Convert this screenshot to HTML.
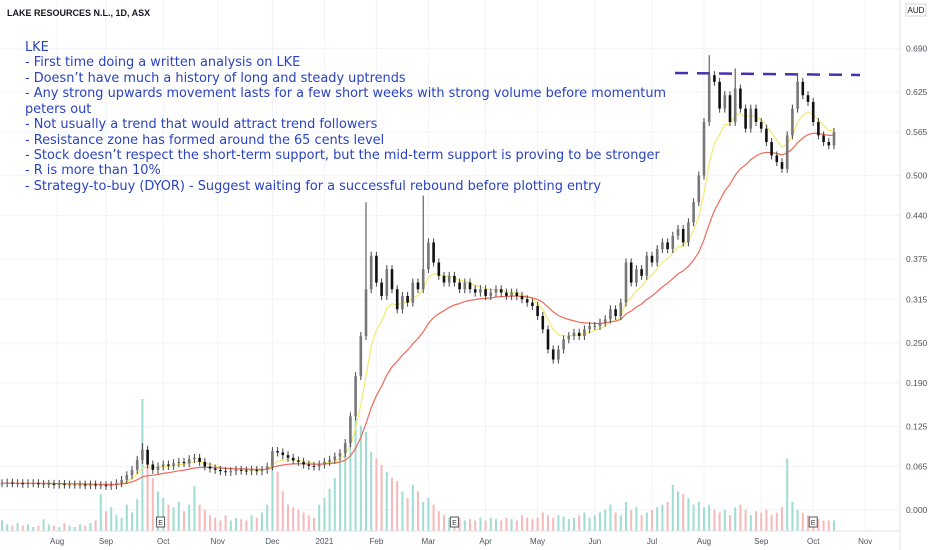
<!DOCTYPE html>
<html><head><meta charset="utf-8"><style>
body{margin:0;background:#fff;width:932px;height:550px;overflow:hidden;font-family:"Liberation Sans",sans-serif}
svg{display:block}
</style></head><body>
<svg id="chart" width="932" height="550" xmlns="http://www.w3.org/2000/svg">
<rect x="0" y="0" width="932" height="550" fill="#fff"/>
<g id="grid"></g>
<g id="vol"></g>
<g id="ma"></g>
<g id="candles"></g>
<line x1="675" y1="73" x2="860" y2="75" stroke="#4a2fb0" stroke-width="2.5" stroke-dasharray="13,9"/>
<text x="7" y="16" font-size="9" font-weight="bold" fill="#131722">LAKE RESOURCES N.L., 1D, ASX</text>
<g font-family="'DejaVu Sans',sans-serif" font-size="12.9" fill="#2a43c0">
<text x="25" y="51">LKE</text>
<text x="25" y="66">- First time doing a written analysis on LKE</text>
<text x="25" y="82">- Doesn’t have much a history of long and steady uptrends</text>
<text x="25" y="97">- Any strong upwards movement lasts for a few short weeks with strong volume before momentum</text>
<text x="25" y="113">peters out</text>
<text x="25" y="128">- Not usually a trend that would attract trend followers</text>
<text x="25" y="144">- Resistance zone has formed around the 65 cents level</text>
<text x="25" y="159">- Stock doesn’t respect the short-term support, but the mid-term support is proving to be stronger</text>
<text x="25" y="174">- R is more than 10%</text>
<text x="25" y="190">- Strategy-to-buy (DYOR) - Suggest waiting for a successful rebound before plotting entry</text>
</g>
<line x1="900" y1="0" x2="900" y2="550" stroke="#e0e3eb"/>
<line x1="0" y1="531" x2="900" y2="531" stroke="#e0e3eb"/>
<g id="yaxis"></g>
<g id="xaxis"></g>
<rect x="906" y="4" width="20" height="12" fill="#fff" stroke="#d1d4dc"/>
<text x="916" y="13" font-size="8" text-anchor="middle" fill="#131722">AUD</text>
<g id="earn"></g>
</svg>
<script>
const closes=[0.040,0.041,0.040,0.040,0.039,0.040,0.040,0.039,0.039,0.039,0.038,0.039,0.038,0.038,0.038,0.038,0.037,0.038,0.037,0.037,0.036,0.037,
0.040,0.045,0.052,0.060,0.075,0.090,0.068,0.060,0.065,
0.068,0.066,0.070,0.072,0.070,0.076,0.078,0.072,0.065,0.062,
0.060,0.058,0.057,0.058,0.060,0.059,0.058,0.060,0.058,0.060,0.065,
0.088,0.086,0.082,0.078,0.074,0.072,0.068,0.066,0.065,0.068,
0.072,0.075,0.080,0.085,0.100,0.140,0.200,0.260,0.330,0.380,
0.340,0.320,0.360,0.330,0.300,0.320,0.310,0.340,0.330,0.360,
0.400,0.370,0.350,0.340,0.350,0.340,0.330,0.340,0.330,0.325,0.330,
0.320,0.325,0.330,0.325,0.320,0.325,0.320,0.315,0.310,0.305,
0.290,0.270,0.240,0.225,0.240,0.255,0.260,0.265,0.260,0.270,0.275,
0.275,0.280,0.285,0.300,0.290,0.310,0.370,0.340,0.360,0.350,0.380,
0.370,0.390,0.400,0.390,0.410,0.420,0.400,0.430,0.460,0.500,
0.580,0.650,0.640,0.600,0.620,0.580,0.630,0.600,0.570,0.600,0.580,
0.570,0.550,0.530,0.520,0.510,0.560,0.600,0.640,0.620,0.610,0.580,0.560,0.550,0.545,0.565];
const spikeIdx=[27,70,81,136,141,153];
const spikeHigh=[0.100,0.460,0.470,0.680,0.660,0.650];
const volumes=[8,5,4,6,4,5,3,4,9,5,4,3,6,4,3,5,4,6,8,28,15,18,
12,10,20,14,24,100,55,40,30,
25,20,18,22,15,20,34,20,16,12,
10,8,12,8,10,9,8,12,10,14,20,
60,45,30,20,18,16,14,12,10,20,
25,32,40,55,60,70,85,80,75,60,
55,50,45,40,38,30,25,35,30,22,
25,20,15,12,10,9,10,8,9,8,10,
8,10,9,8,10,9,8,12,10,9,
10,14,12,10,12,11,9,10,12,14,10,
12,14,16,20,14,12,22,16,18,12,14,
16,18,20,22,35,30,28,25,20,22,
18,20,16,14,16,12,18,20,16,12,15,
14,16,12,14,18,55,22,16,14,12,10,9,8,8,8];
const priceTicks=[0.690,0.625,0.565,0.500,0.440,0.375,0.315,0.250,0.190,0.125,0.065,0.000];
const monthLabels=["Aug","Sep","Oct","Nov","Dec","2021","Feb","Mar","Apr","May","Jun","Jul","Aug","Sep","Oct","Nov"];
const monthIdx=[10.6,20,31,41.5,52,62,72,82,93,103,114,125,135,146,156,166];
const earnIdx=[30.5,87,156];

const NS="http://www.w3.org/2000/svg";
const X=i=>2+i*5.2;
const Y=p=>510-p*669;
const V=v=>531-v*1.32;
function mk(tag,attrs,parent){const e=document.createElementNS(NS,tag);for(const k in attrs)e.setAttribute(k,attrs[k]);parent.appendChild(e);return e;}
const grid=document.getElementById('grid'),yax=document.getElementById('yaxis'),xax=document.getElementById('xaxis');
priceTicks.forEach(p=>{
  const l=mk('line',{x1:0,x2:900,y1:Y(p),y2:Y(p),stroke:'#f0f3fa'},grid);
  
  
  const t=mk('text',{x:906,y:Y(p)+3,'font-size':8.5,fill:'#50535e'},yax);
  
  
  t.textContent=p.toFixed(3);
});
monthLabels.forEach((m,k)=>{
  const x=X(monthIdx[k]);
  const l=mk('line',{x1:x,x2:x,y1:0,y2:531,stroke:'#f0f3fa'},grid);
  
  
  const t=mk('text',{x:x,y:544,'font-size':8,fill:'#50535e','text-anchor':'middle'},xax);
  
  
  t.textContent=m;
});
const vg=document.getElementById('vol');
volumes.forEach((v,i)=>{
  const up=i==0||closes[i]>=closes[i-1];
  const r=mk('rect',{x:X(i)-1,y:V(v),width:2,height:531-V(v),fill:up?'#9fdcd2':'#f7b8b8'},vg);
  
  
});
function ma(n){const out=[];let e=closes[0];const k=2/(n+1);closes.forEach(c=>{e=c*k+e*(1-k);out.push(e);});return out;}
const mg=document.getElementById('ma');
[[7,'#f2ea6e','ma-short-line'],[20,'#ef6a5a','ma-long-line']].forEach(([n,c,name])=>{
  const s=ma(n);
  const p=mk('path',{d:s.map((v,i)=>(i?'L':'M')+X(i).toFixed(1)+','+Y(v).toFixed(1)).join(''),fill:'none',stroke:c,'stroke-width':1.2},mg);
  
  
});
const cg=document.getElementById('candles');
closes.forEach((c,i)=>{
  const o=i?closes[i-1]:c;
  let hi=Math.max(o,c),lo=Math.min(o,c);
  const si=spikeIdx.indexOf(i);
  const yh=si>=0?Y(spikeHigh[si]):Y(hi)-4,yl=Y(lo)+4;
  const g=mk('g',{},cg);
  
  
  mk('line',{x1:X(i),x2:X(i),y1:yh,y2:yl,stroke:'#444','stroke-width':1},g);
  mk('rect',{x:X(i)-1.3,y:Y(hi),width:2.6,height:Math.max(1,Y(lo)-Y(hi)),fill:c>=o?'#777':'#111'},g);
});
const eg=document.getElementById('earn');
earnIdx.forEach(i=>{
  const g=mk('g',{},eg);
  
  
  mk('rect',{x:X(i)-4,y:517,width:8,height:10,fill:'#fff',stroke:'#555'},g);
  const t=mk('text',{x:X(i),y:525,'font-size':7,'text-anchor':'middle',fill:'#333'},g);
  t.textContent='E';
});
</script>
</body></html>
